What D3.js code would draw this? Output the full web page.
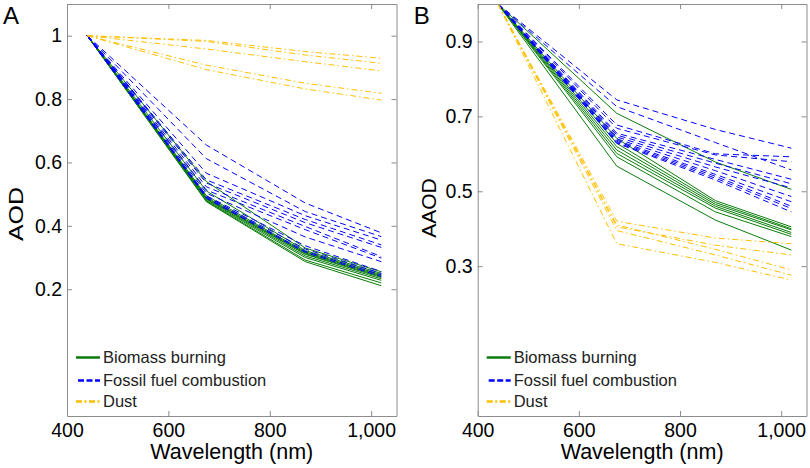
<!DOCTYPE html>
<html>
<head>
<meta charset="utf-8">
<script src="https://cdn.jsdelivr.net/npm/d3@7"></script>
<style>
  html, body { margin: 0; padding: 0; background: #fff; }
  svg { display: block; font-family: "Liberation Sans", Arial, sans-serif; }
</style>
</head>
<body>
<svg id="chart" width="810" height="468"></svg>
<script>
// ---------------- data ----------------
const wavelengths = [440, 675, 870, 1020];

// Panel A: AOD normalised at 440 nm
const aodBiomass = [
  [1, 0.540, 0.330, 0.255],
  [1, 0.510, 0.322, 0.250],
  [1, 0.495, 0.318, 0.246],
  [1, 0.490, 0.315, 0.243],
  [1, 0.487, 0.312, 0.240],
  [1, 0.485, 0.310, 0.237],
  [1, 0.483, 0.305, 0.233],
  [1, 0.480, 0.300, 0.228],
  [1, 0.478, 0.292, 0.220],
  [1, 0.476, 0.287, 0.211]
];
const aodFossil = [
  [1, 0.655, 0.472, 0.378],
  [1, 0.612, 0.445, 0.366],
  [1, 0.566, 0.432, 0.355],
  [1, 0.545, 0.420, 0.340],
  [1, 0.535, 0.410, 0.332],
  [1, 0.523, 0.398, 0.303],
  [1, 0.513, 0.388, 0.298],
  [1, 0.503, 0.365, 0.287],
  [1, 0.495, 0.337, 0.256],
  [1, 0.492, 0.327, 0.250],
  [1, 0.489, 0.320, 0.245],
  [1, 0.487, 0.316, 0.240]
];
const aodDust = [
  [1, 0.985, 0.950, 0.929],
  [1, 0.982, 0.939, 0.913],
  [1, 0.958, 0.918, 0.889],
  [1, 0.907, 0.850, 0.818],
  [1, 0.893, 0.832, 0.797]
];

// Panel B: AAOD normalised at 440 nm
const aaodBiomass = [
  [1, 0.708, 0.578, 0.505],
  [1, 0.641, 0.475, 0.405],
  [1, 0.628, 0.470, 0.400],
  [1, 0.619, 0.465, 0.397],
  [1, 0.610, 0.460, 0.390],
  [1, 0.601, 0.455, 0.385],
  [1, 0.592, 0.445, 0.379],
  [1, 0.567, 0.423, 0.343]
];
const aaodFossil = [
  [1, 0.744, 0.665, 0.615],
  [1, 0.726, 0.630, 0.557],
  [1, 0.677, 0.600, 0.592],
  [1, 0.668, 0.597, 0.579],
  [1, 0.655, 0.585, 0.532],
  [1, 0.650, 0.575, 0.520],
  [1, 0.645, 0.565, 0.509],
  [1, 0.640, 0.555, 0.486],
  [1, 0.636, 0.545, 0.472],
  [1, 0.633, 0.540, 0.460],
  [1, 0.630, 0.535, 0.454],
  [1, 0.628, 0.530, 0.445]
];
const aaodDust = [
  [1, 0.420, 0.375, 0.360],
  [1, 0.405, 0.356, 0.330],
  [1, 0.410, 0.345, 0.290],
  [1, 0.395, 0.330, 0.276],
  [1, 0.360, 0.310, 0.263]
];

const xTicks = [400, 600, 800, 1000];
const aodTicks = [0.2, 0.4, 0.6, 0.8, 1];
const aaodTicks = [0.3, 0.5, 0.7, 0.9];
const legendLabels = ["Biomass burning", "Fossil fuel combustion", "Dust"];

// ---------------- styles ----------------
const GREEN = "#0a7d0a", BLUE = "#0000ff", GOLD = "#ffbf00", AXIS = "#8c8c8c";
const styles = [
  { color: GREEN, dash: null,        legendDash: null },
  { color: BLUE,  dash: "6,4",       legendDash: "6,2.5" },
  { color: GOLD,  dash: "6,3,1.5,3", legendDash: "6,2.5,2,2.5" }
];

const svg = d3.select("#chart");

function panel(opt) {
  const { left, right, top, bottom, yDomain, yTicks, yLabel, letter, series, labelX, labelY, labelLen } = opt;
  const x = d3.scaleLinear().domain([400, 1050]).range([left, right]);
  const y = d3.scaleLinear().domain(yDomain).range([bottom, top]);
  const g = svg.append("g");

  const clipId = "clip" + letter;
  svg.append("clipPath").attr("id", clipId)
    .append("rect").attr("x", left).attr("y", top).attr("width", right - left).attr("height", bottom - top);

  const line = d3.line().x((d, i) => x(wavelengths[i])).y(d => y(d));
  const lines = g.append("g").attr("clip-path", `url(#${clipId})`);
  series.forEach((set, si) => {
    lines.selectAll(null).data(set).enter().append("path")
      .attr("d", line)
      .attr("fill", "none")
      .attr("stroke", styles[si].color)
      .attr("stroke-width", 1)
      .attr("stroke-dasharray", styles[si].dash);
  });

  // axes
  const fmtX = d3.format(",");
  const fmtY = d => d3.format("")(+d.toFixed(1));
  const styleAxis = sel => {
    sel.select(".domain").attr("stroke", AXIS);
    sel.selectAll(".tick line").attr("stroke", AXIS);
    sel.selectAll(".tick text").attr("fill", "#000")
      .style("font-family", '"Liberation Sans", Arial, sans-serif')
      .style("font-size", "19.5px");
  };
  g.append("g").attr("transform", `translate(0,${bottom})`)
    .call(d3.axisBottom(x).tickValues(xTicks).tickFormat(fmtX).tickSizeInner(-5).tickSizeOuter(0).tickPadding(7))
    .call(styleAxis);
  g.append("g").attr("transform", `translate(0,${top})`)
    .call(d3.axisTop(x).tickValues(xTicks).tickFormat("").tickSizeInner(-5).tickSizeOuter(0))
    .call(styleAxis);
  g.append("g").attr("transform", `translate(${left},0)`)
    .call(d3.axisLeft(y).tickValues(yTicks).tickFormat(fmtY).tickSizeInner(-5).tickSizeOuter(0).tickPadding(5))
    .call(styleAxis);
  g.append("g").attr("transform", `translate(${right},0)`)
    .call(d3.axisRight(y).tickValues(yTicks).tickFormat("").tickSizeInner(-5).tickSizeOuter(0))
    .call(styleAxis);

  // axis titles
  g.append("text")
    .attr("x", (left + right) / 2).attr("y", 459)
    .attr("text-anchor", "middle")
    .style("font-size", "21.5px").attr("fill", "#000")
    .text("Wavelength (nm)");
  const yl = g.append("text")
    .attr("transform", `translate(${labelX},${labelY}) rotate(-90)`)
    .attr("text-anchor", "middle")
    .style("font-size", "21px").attr("fill", "#000")
    .text(yLabel);
  if (labelLen) yl.attr("textLength", labelLen).attr("lengthAdjust", "spacingAndGlyphs");
  g.append("text")
    .attr("x", left - 64).attr("y", 24)
    .style("font-size", "24px").attr("fill", "#000")
    .text(letter);

  // legend
  const legY = [357.5, 380.5, 401.5];
  legendLabels.forEach((lab, i) => {
    const lx = left + 9;
    g.append("line")
      .attr("x1", lx + (i === 1 ? 2 : 0)).attr("x2", lx + 24)
      .attr("y1", legY[i]).attr("y2", legY[i])
      .attr("stroke", styles[i].color)
      .attr("stroke-width", 2.5)
      .attr("stroke-dasharray", styles[i].legendDash);
    g.append("text")
      .attr("x", lx + 27).attr("y", legY[i]).attr("dy", "0.35em")
      .style("font-size", "16.5px").attr("fill", "#222")
      .text(lab);
  });
}

panel({
  left: 67, right: 396.5, top: 4, bottom: 416,
  yDomain: [-0.2, 1.1], yTicks: aodTicks, yLabel: "AOD", letter: "A",
  series: [aodBiomass, aodFossil, aodDust], labelX: 23, labelY: 214, labelLen: 54
});
panel({
  left: 477.7, right: 806.5, top: 4, bottom: 416,
  yDomain: [-0.1, 1.0], yTicks: aaodTicks, yLabel: "AAOD", letter: "B",
  series: [aaodBiomass, aaodFossil, aaodDust], labelX: 436, labelY: 208, labelLen: null
});
</script>
</body>
</html>
